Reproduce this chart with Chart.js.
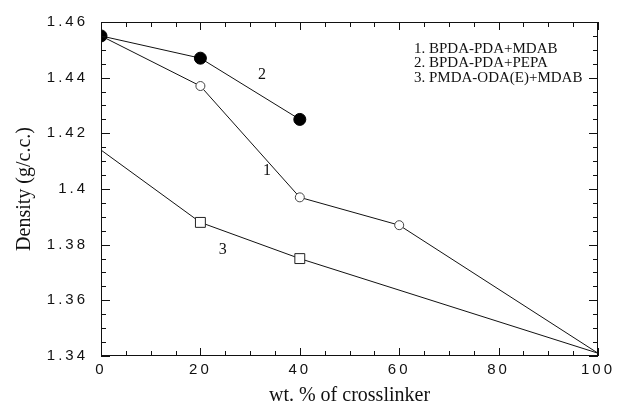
<!DOCTYPE html>
<html>
<head>
<meta charset="utf-8">
<script src="https://cdn.jsdelivr.net/npm/chart.js@4.4.1/dist/chart.umd.min.js"></script>
<style>
  html, body { margin: 0; padding: 0; background: #fff; }
  #wrap { width: 618px; height: 412px; }
</style>
</head>
<body>
<div id="wrap"><canvas id="chart" width="618" height="412"></canvas></div>
<script>
// values
const crosslinker1 = [0, 20, 40, 60, 100];
const density1 = [1.455, 1.437, 1.397, 1.387, 1.341];
const crosslinker2 = [0, 20, 40];
const density2 = [1.455, 1.447, 1.425];
const crosslinker3 = [0, 20, 40, 100];
const density3 = [1.414, 1.388, 1.375, 1.341];

const seriesNames = ['1. BPDA-PDA+MDAB', '2. BPDA-PDA+PEPA', '3. PMDA-ODA(E)+MDAB'];
const xTicks = [0, 20, 40, 60, 80, 100];
const yTicks = [1.34, 1.36, 1.38, 1.40, 1.42, 1.44, 1.46];
const yTickLabels = ['1.34', '1.36', '1.38', '1.4', '1.42', '1.44', '1.46'];
const xTitle = 'wt. % of crosslinker';
const yTitle = 'Density (g/c.c.)';

const toPoints = (xs, ys) => xs.map((x, i) => ({ x: x, y: ys[i] }));
const serif = '"Liberation Serif", "Times New Roman", serif';

// frame, inward tick marks, curve numbers, axis titles and the text key
const framePlugin = {
  id: 'frame',
  afterDraw(chart) {
    const ctx = chart.ctx;
    const a = chart.chartArea;
    const xs = chart.scales.x, ys = chart.scales.y;
    ctx.save();
    ctx.letterSpacing = '0px';
    ctx.strokeStyle = '#111';
    ctx.lineWidth = 1;
    ctx.strokeRect(a.left + 0.5, a.top + 0.5, a.right - a.left - 1, a.bottom - a.top - 1);
    ctx.beginPath();
    for (let v = 0; v <= 100; v += 5) {
      const px = Math.round(xs.getPixelForValue(v)) + 0.5;
      const len = v % 20 === 0 ? 8 : 5;
      ctx.moveTo(px, a.bottom); ctx.lineTo(px, a.bottom - len);
      ctx.moveTo(px, a.top); ctx.lineTo(px, a.top + len);
    }
    for (let k = 0; k <= 24; k++) {
      const v = 1.34 + k * 0.005;
      const py = Math.round(ys.getPixelForValue(v)) + 0.5;
      const len = k % 4 === 0 ? 9 : 5;
      ctx.moveTo(a.left, py); ctx.lineTo(a.left + len, py);
      ctx.moveTo(a.right, py); ctx.lineTo(a.right - len, py);
    }
    ctx.stroke();

    ctx.fillStyle = '#111';
    ctx.font = '16px ' + serif;
    ctx.textAlign = 'center';
    ctx.textBaseline = 'middle';
    const tags = [['1', 33.4, 1.4065], ['2', 32.4, 1.441], ['3', 24.5, 1.378]];
    tags.forEach(t => ctx.fillText(t[0], xs.getPixelForValue(t[1]), ys.getPixelForValue(t[2])));

    ctx.font = '20px ' + serif;
    ctx.fillText(xTitle, (a.left + a.right) / 2, 396);
    ctx.save();
    ctx.translate(25, (a.top + a.bottom) / 2);
    ctx.rotate(-Math.PI / 2);
    ctx.fillText(yTitle, 0, 0);
    ctx.restore();

    ctx.font = '15px ' + serif;
    ctx.textAlign = 'left';
    seriesNames.forEach((s, i) => ctx.fillText(s, a.right - 184, a.top + 27 + i * 14.5));
    ctx.restore();
  }
};

// the tick numbers in the figure are widely spaced
const spacingPlugin = {
  id: 'spacing',
  beforeDraw(chart) { chart.ctx.letterSpacing = '3px'; }
};

new Chart(document.getElementById('chart'), {
  type: 'scatter',
  data: {
    datasets: [
      {
        data: toPoints(crosslinker1, density1),
        showLine: true,
        borderColor: '#111',
        borderWidth: 1,
        pointStyle: 'circle',
        pointRadius: [0, 4.5, 4.5, 4.5, 0],
        pointBackgroundColor: '#fff',
        pointBorderColor: '#444',
        pointBorderWidth: 1
      },
      {
        data: toPoints(crosslinker2, density2),
        showLine: true,
        borderColor: '#111',
        borderWidth: 1,
        pointStyle: 'circle',
        pointRadius: 6,
        pointBackgroundColor: '#000',
        pointBorderColor: '#000',
        pointBorderWidth: 1
      },
      {
        data: toPoints(crosslinker3, density3),
        showLine: true,
        borderColor: '#111',
        borderWidth: 1,
        pointStyle: 'rect',
        pointRadius: [0, 7, 7, 0],
        pointBackgroundColor: '#fff',
        pointBorderColor: '#222',
        pointBorderWidth: 1
      }
    ]
  },
  options: {
    responsive: false,
    animation: false,
    layout: { padding: { left: 0, right: 20, top: 16, bottom: 0 } },
    plugins: { legend: { display: false }, tooltip: { enabled: false } },
    scales: {
      x: {
        type: 'linear',
        min: 0,
        max: 100,
        afterBuildTicks: s => { s.ticks = xTicks.map(v => ({ value: v })); },
        afterFit: s => { s.height = 56; },
        grid: { display: false, drawTicks: false },
        border: { display: false },
        ticks: {
          color: '#111',
          padding: 5,
          font: { family: '"Liberation Sans", Arial, sans-serif', size: 15 },
          callback: v => String(v)
        }
      },
      y: {
        type: 'linear',
        min: 1.34,
        max: 1.46,
        afterBuildTicks: s => { s.ticks = yTicks.map(v => ({ value: v })); },
        afterFit: s => { s.width = 101; },
        grid: { display: false, drawTicks: false },
        border: { display: false },
        ticks: {
          color: '#111',
          padding: 13,
          font: { family: '"Liberation Sans", Arial, sans-serif', size: 15 },
          callback: (v, i) => yTickLabels[i]
        }
      }
    }
  },
  plugins: [spacingPlugin, framePlugin]
});
</script>
</body>
</html>
